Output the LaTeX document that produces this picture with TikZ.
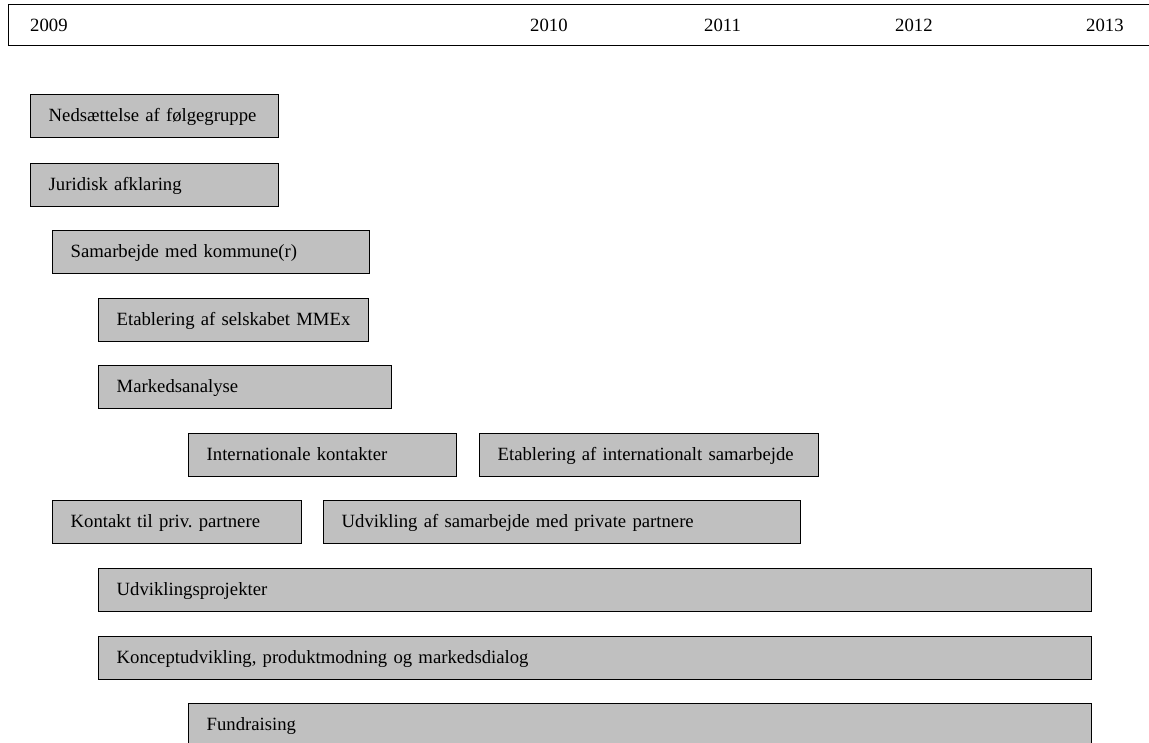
\documentclass[tikz,border=0pt]{standalone}
\usepackage{fontspec}
\setmainfont{Liberation Serif}
\frenchspacing
\definecolor{barfill}{HTML}{C0C0C0}
\tikzset{
	every node/.style={font=\fontsize{18.7}{22}\selectfont},
	yearbar/.style={draw, line width=1.4pt, anchor=north west, minimum height=41pt, inner sep=0pt},
	taskbar/.style={draw, line width=1.4pt, fill=barfill, anchor=north west, align=left,
		inner xsep=18pt, inner ysep=0pt, minimum height=43pt, text height=14pt, text depth=4pt},
	yearlabel/.style={anchor=base west, inner sep=0pt}
}

\begin{document}
\begin{tikzpicture}[x=1pt,y=-1pt]
		\useasboundingbox (0,0) rectangle (1149,742);
		\def\base{31}

		% time axis
		\node[yearbar, minimum width=1160pt] (years) at (8,4) {};
		\node[yearlabel] (y2009) at (30,\base) {2009};
		\node[yearlabel] (y2010) at (530,\base) {2010};
		\node[yearlabel] (y2011) at (704,\base) {2011};
		\node[yearlabel] (y2012) at (895,\base) {2012};
		\node[yearlabel] (y2013) at (1086,\base) {2013};

		% activities
		\node[taskbar, text width=212pt] (folge) at (30,94) {Nedsættelse af følgegruppe};
		\node[taskbar, text width=212pt] (jura) at (30,163) {Juridisk afklaring};
		\node[taskbar, text width=281pt] (kommune) at (52,230) {Samarbejde med kommune(r)};
		\node[taskbar, text width=234pt] (mmex) at (98,298) {Etablering af selskabet MMEx};
		\node[taskbar, text width=257pt] (marked) at (98,365) {Markedsanalyse};
		\node[taskbar, text width=232pt] (intkontakt) at (188,433) {Internationale kontakter};
		\node[taskbar, text width=303pt] (intsamarb) at (479,433) {Etablering af internationalt samarbejde};
		\node[taskbar, text width=213pt] (privkontakt) at (52,500) {Kontakt til priv. partnere};
		\node[taskbar, text width=441pt] (privsamarb) at (323,500) {Udvikling af samarbejde med private partnere};
		\node[taskbar, text width=957pt] (projekter) at (98,568) {Udviklingsprojekter};
		\node[taskbar, text width=957pt] (koncept) at (98,636) {Konceptudvikling, produktmodning og markedsdialog};
		\node[taskbar, text width=867pt] (fund) at (188,703) {Fundraising};
	\end{tikzpicture}
\end{document}
